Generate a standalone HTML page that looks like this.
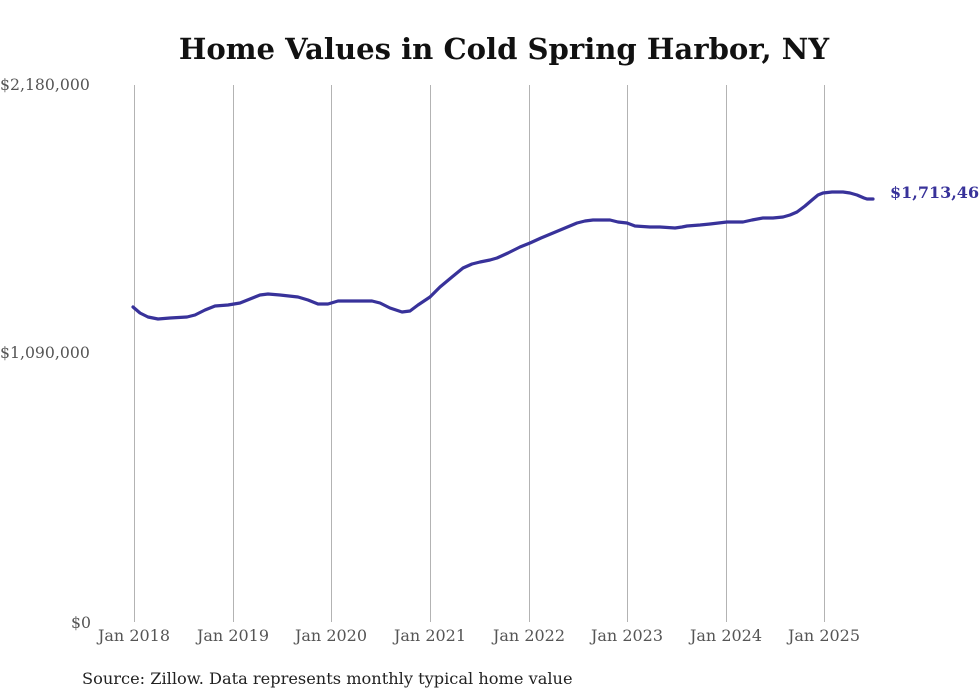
<!DOCTYPE html>
<html><head><meta charset="utf-8"><style>
html,body{margin:0;padding:0;background:#fff;}
svg{display:block;}
</style></head><body>
<svg width="980" height="699" viewBox="0 0 980 699" xmlns="http://www.w3.org/2000/svg">
<rect width="980" height="699" fill="#fff"/>
<text x="504" y="59" text-anchor="middle" font-family="'DejaVu Serif', serif" font-weight="bold" font-size="29.1" fill="#111">Home Values in Cold Spring Harbor, NY</text>
<g stroke="#b3b3b3" stroke-width="1">
<line x1="134.5" y1="85" x2="134.5" y2="622"/>
<line x1="233.5" y1="85" x2="233.5" y2="622"/>
<line x1="331.5" y1="85" x2="331.5" y2="622"/>
<line x1="430.5" y1="85" x2="430.5" y2="622"/>
<line x1="529.5" y1="85" x2="529.5" y2="622"/>
<line x1="627.5" y1="85" x2="627.5" y2="622"/>
<line x1="726.5" y1="85" x2="726.5" y2="622"/>
<line x1="824.5" y1="85" x2="824.5" y2="622"/>
</g>
<g font-family="'DejaVu Serif', serif" font-size="15.7" fill="#555">
<text x="0" y="90">$2,180,000</text>
<text x="0" y="358">$1,090,000</text>
<text x="71" y="628">$0</text>
</g>
<g font-family="'DejaVu Serif', serif" font-size="16" fill="#555" text-anchor="middle">
<text x="134" y="641">Jan 2018</text>
<text x="233" y="641">Jan 2019</text>
<text x="331" y="641">Jan 2020</text>
<text x="430" y="641">Jan 2021</text>
<text x="529" y="641">Jan 2022</text>
<text x="627" y="641">Jan 2023</text>
<text x="726" y="641">Jan 2024</text>
<text x="824" y="641">Jan 2025</text>
</g>
<polyline fill="none" stroke="#38329a" stroke-width="3.2" stroke-linejoin="round" stroke-linecap="round" points="133,307 140,313 148,317 158,319 170,318 187,317 195,315 205,310 215,306 228,305 240,303 250,299 260,295 268,294 280,295 298,297 308,300 318,304 328,304 338,301 355,301 372,301 380,303 390,308 402,312 410,311 418,305 430,297 440,287 452,277 463,268 472,264 480,262 490,260 497,258 508,253 520,247 530,243 541,238 553,233 565,228 577,223 585,221 593,220 602,220 610,220 618,222 627,223 635,226 650,227 660,227 675,228 682,227 687,226 700,225 710,224 727,222 743,222 752,220 763,218 773,218 783,217 790,215 797,212 805,206 812,200 818,195 823,193 832,192 843,192 850,193 857,195 864,198 867,199 873,199"/>
<text x="890" y="198" font-family="'DejaVu Serif', serif" font-weight="bold" font-size="16" fill="#38329a">$1,713,468</text>
<text x="82" y="684" font-family="'DejaVu Serif', serif" font-size="16.2" fill="#222">Source: Zillow. Data represents monthly typical home value</text>
</svg>
</body></html>
